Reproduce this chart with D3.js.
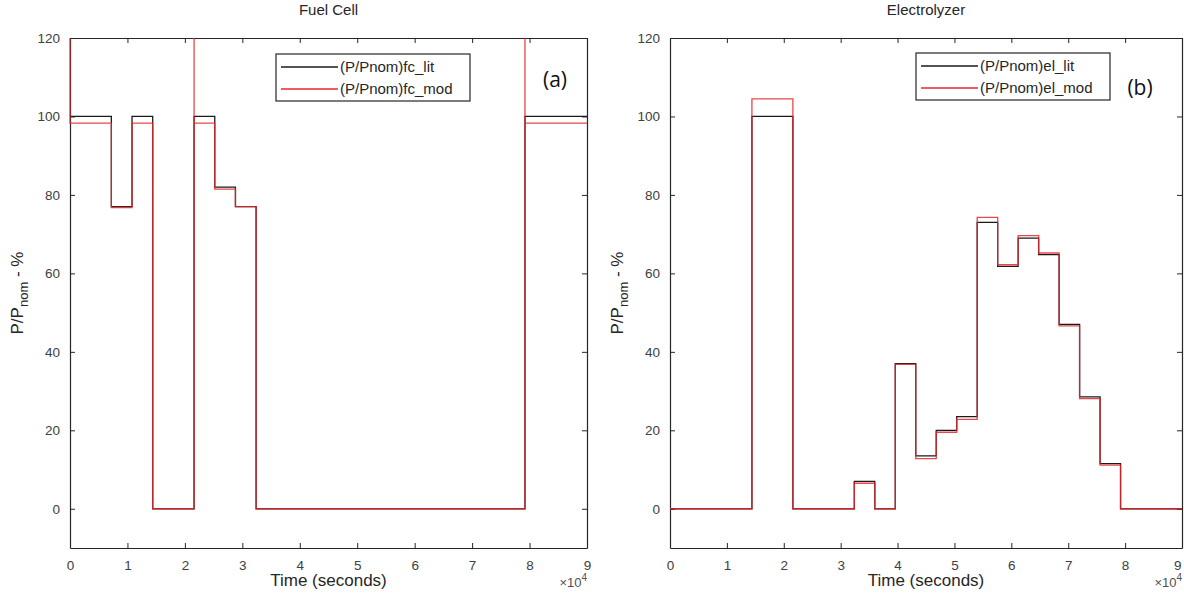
<!DOCTYPE html>
<html>
<head>
<meta charset="utf-8">
<script src="https://cdn.jsdelivr.net/npm/d3@7"></script>
<style>
  html, body { margin: 0; padding: 0; background: #fff; }
  svg { display: block; font-family: "Liberation Sans", Arial, sans-serif; }
</style>
</head>
<body>
<svg id="chart" width="1184" height="595"></svg>
<script>
// ---------- data (hourly steps, time in seconds) ----------
const stepHours = d3.range(0, 24);          // 24 hourly intervals
const hourSeconds = 3600;
const xEnd = 90000;

const fcLit = [100,100,77,100,0,0,100,82,77,0,0,0,0,0,0,0,0,0,0,0,0,0,100,100];
const fcMod = [98.3,98.3,76.8,98.3,0,0,98.3,81.5,77,0,0,0,0,0,0,0,0,0,0,0,0,0,98.3,98.3];
const fcModSpikeHours = [0, 6, 22];   // start-up overshoots (beyond axis limit)
const fcModSpikeValue = 160;

const elLit = [0,0,0,0,100,100,0,0,0,7,0,37,13.5,20,23.5,73,61.8,69,64.8,47,28.5,11.5,0,0];
const elMod = [0,0,0,0,104.5,104.5,0,0,0,6.5,0,36.8,12.8,19.5,22.8,74.3,62.2,69.6,65.2,46.6,28.1,11.1,0,0];

const xTicks = d3.range(0, 10).map(d => d * 10000);
const xTickLabels = d3.range(0, 10).map(String);
const yTicks = [0, 20, 40, 60, 80, 100, 120];

const panels = [
  { title: "Fuel Cell", lit: fcLit, mod: fcMod, spikes: fcModSpikeHours,
    legend: ["(P/Pnom)fc_lit", "(P/Pnom)fc_mod"], tag: "(a)",
    left: 70, right: 587, legendBox: [276, 54, 194, 47], tagPos: [555, 87] },
  { title: "Electrolyzer", lit: elLit, mod: elMod, spikes: [],
    legend: ["(P/Pnom)el_lit", "(P/Pnom)el_mod"], tag: "(b)",
    left: 670, right: 1182, legendBox: [916, 53, 194, 47], tagPos: [1140, 95] }
];

const plotTop = 38, plotBottom = 548;
const svg = d3.select("#chart");
const textColor = "#262626";
const litColor = "#1a1a1a";
const modColor = "#e0282e";

function stepPoints(values, spikeHours) {
  const pts = [];
  values.forEach((v, i) => {
    const t0 = stepHours[i] * hourSeconds;
    const t1 = i === values.length - 1 ? xEnd : stepHours[i + 1] * hourSeconds;
    if (spikeHours.includes(stepHours[i])) pts.push([t0, fcModSpikeValue]);
    pts.push([t0, v]);
    pts.push([t1, v]);
  });
  return pts;
}

panels.forEach((p, idx) => {
  const x = d3.scaleLinear().domain([0, xEnd]).range([p.left, p.right]);
  const y = d3.scaleLinear().domain([-10, 120]).range([plotBottom, plotTop]);
  const g = svg.append("g");

  const clipId = "clip" + idx;
  svg.append("clipPath").attr("id", clipId).append("rect")
    .attr("x", p.left - 1).attr("y", plotTop).attr("width", p.right - p.left + 2).attr("height", plotBottom - plotTop);

  const line = d3.line().x(d => x(d[0])).y(d => y(d[1]));

  // axes (box with inward ticks)
  const axB = d3.axisBottom(x).tickValues(xTicks).tickFormat((d, i) => xTickLabels[i]).tickSizeInner(-5).tickSizeOuter(0).tickPadding(12);
  const axT = d3.axisTop(x).tickValues(xTicks).tickFormat("").tickSizeInner(-5).tickSizeOuter(0);
  const axL = d3.axisLeft(y).tickValues(yTicks).tickSizeInner(-5).tickSizeOuter(0).tickPadding(10);
  const axR = d3.axisRight(y).tickValues(yTicks).tickFormat("").tickSizeInner(-5).tickSizeOuter(0);

  const styleAxis = sel => {
    sel.selectAll("path").attr("stroke", textColor).attr("stroke-width", 1.2);
    sel.selectAll("line").attr("stroke", textColor).attr("stroke-width", 1);
    sel.selectAll("text").attr("fill", "#404040").style("font-size", "13.5px")
      .style("font-family", "'Liberation Sans', Arial, sans-serif");
  };
  const gB = g.append("g").attr("transform", `translate(0,${plotBottom})`).call(axB).call(styleAxis);
  // keep the last tick label inside the page edge on the right-hand panel
  if (p.right > 1170) {
    gB.selectAll(".tick").filter(d => d === xEnd).select("text")
      .attr("text-anchor", "end").attr("dx", "-1");
  }
  g.append("g").attr("transform", `translate(0,${plotTop})`).call(axT).call(styleAxis);
  g.append("g").attr("transform", `translate(${p.left},0)`).call(axL).call(styleAxis);
  g.append("g").attr("transform", `translate(${p.right},0)`).call(axR).call(styleAxis);

  // lines
  g.append("path").datum(stepPoints(p.lit, []))
    .attr("clip-path", `url(#${clipId})`)
    .attr("d", line).attr("fill", "none").attr("stroke", litColor).attr("stroke-width", 1.3);
  g.append("path").datum(stepPoints(p.mod, p.spikes))
    .attr("clip-path", `url(#${clipId})`)
    .attr("d", line).attr("fill", "none").attr("stroke", modColor).attr("stroke-width", 1.3)
    .attr("stroke-opacity", 0.85);

  const cx = (p.left + p.right) / 2;
  // title
  g.append("text").attr("x", cx).attr("y", 15).attr("text-anchor", "middle")
    .attr("fill", textColor).style("font-size", "15px").text(p.title);
  // x label
  g.append("text").attr("x", cx).attr("y", 586).attr("text-anchor", "middle")
    .attr("fill", textColor).style("font-size", "17px").text("Time (seconds)");
  // x exponent
  const ex = g.append("text").attr("x", p.right).attr("y", 587).attr("text-anchor", "end")
    .attr("fill", "#505050").style("font-size", "13px");
  ex.append("tspan").text("\u00d710");
  ex.append("tspan").attr("dy", -6).style("font-size", "10px").text("4");
  // y label
  const yl = g.append("text")
    .attr("transform", `translate(${p.left - 47},${(plotTop + plotBottom) / 2}) rotate(-90)`)
    .attr("text-anchor", "middle").attr("fill", textColor).style("font-size", "17px");
  yl.append("tspan").text("P/P");
  yl.append("tspan").attr("dy", 5).style("font-size", "13px").text("nom");
  yl.append("tspan").attr("dy", -5).text(" - %");

  // legend
  const [lx, ly, lw, lh] = p.legendBox;
  const lg = g.append("g");
  lg.append("rect").attr("x", lx).attr("y", ly).attr("width", lw).attr("height", lh)
    .attr("fill", "#fff").attr("stroke", textColor).attr("stroke-width", 1.2);
  [litColor, modColor].forEach((c, i) => {
    const yy = ly + 13 + i * 22;
    lg.append("line").attr("x1", lx + 5).attr("x2", lx + 62).attr("y1", yy).attr("y2", yy)
      .attr("stroke", c).attr("stroke-width", 1.3);
    lg.append("text").attr("x", lx + 64).attr("y", yy + 5).attr("fill", textColor)
      .style("font-size", "15px").text(p.legend[i]);
  });

  // panel tag
  g.append("text").attr("x", p.tagPos[0]).attr("y", p.tagPos[1]).attr("text-anchor", "middle")
    .attr("fill", "#111").style("font-size", "21px").style("font-family", "'Open Sans', sans-serif")
    .text(p.tag);
});
</script>
</body>
</html>
